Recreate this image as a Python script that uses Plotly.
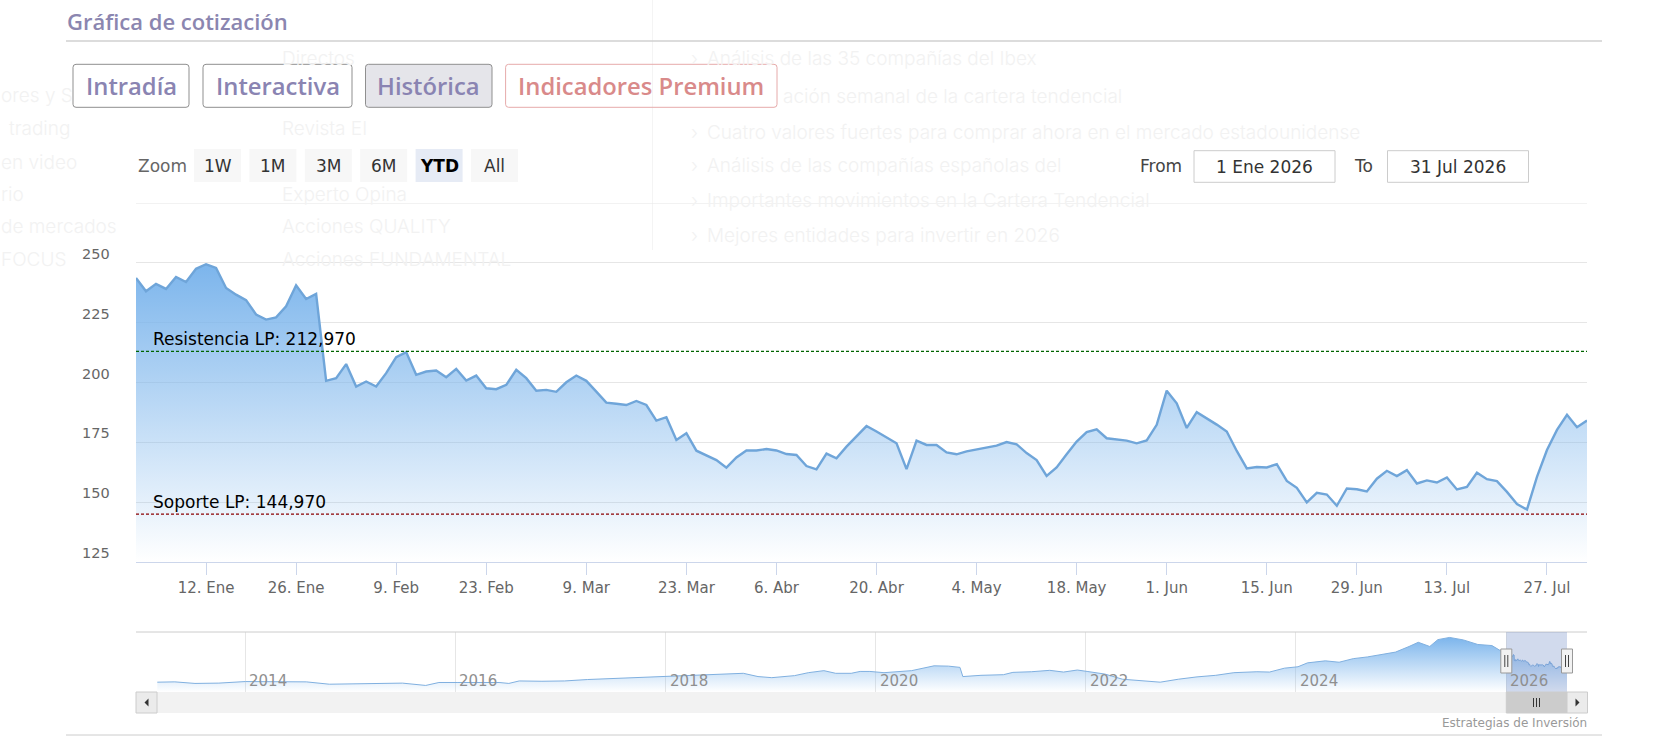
import plotly.graph_objects as go
import pandas as pd

W, H = 1664, 756

# ---------------- data ----------------
HOLIDAYS = ['2026-01-01', '2026-01-19', '2026-02-16', '2026-04-03',
            '2026-05-25', '2026-06-19', '2026-07-03']
DATES = ['2025-12-31'] + [d for d in pd.bdate_range('2026-01-02', '2026-07-31').strftime('%Y-%m-%d')
                          if d not in HOLIDAYS]

PRICES = [
    243.7, 238.1, 241.2, 239.1, 244.1, 242.0, 247.5, 249.4, 247.9, 239.5,
    236.7, 234.4, 228.4, 226.3, 227.2, 231.8, 240.6, 234.9, 237.0, 200.7,
    201.8, 207.7, 198.3, 200.4, 198.3, 203.9, 210.6, 212.7, 203.2, 204.6,
    205.0, 202.2, 205.7, 200.8, 202.9, 197.6, 197.2, 199.0, 205.3, 201.8,
    196.6, 196.9, 196.1, 200.1, 202.9, 200.7, 196.2, 191.6, 191.1, 190.6,
    192.3, 190.6, 184.1, 185.5, 176.0, 178.8, 171.5, 169.4, 167.6, 164.4,
    168.7, 171.6, 171.6, 172.2, 171.6, 170.1, 169.7, 165.1, 163.7, 170.3,
    168.3, 173.2, 177.7, 181.8, 179.5, 177.0, 174.6, 163.8, 175.7, 173.9,
    173.9, 170.8, 170.0, 171.2, 171.9, 172.9, 173.6, 175.1, 174.2, 170.5,
    167.6, 161.0, 164.5, 170.0, 175.3, 179.3, 180.4, 176.7, 176.3, 175.7,
    174.6, 175.8, 182.3, 196.6, 191.3, 181.0, 187.6, 185.1, 182.4, 179.5,
    171.4, 164.1, 164.7, 164.5, 165.9, 158.9, 156.0, 149.9, 153.9, 153.2,
    148.5, 155.7, 155.4, 154.5, 159.8, 163.1, 160.9, 163.4, 157.8, 159.1,
    158.2, 160.3, 155.3, 156.4, 162.3, 159.6, 158.8, 154.3, 149.2, 146.9,
    160.6, 171.8, 180.2, 186.5, 181.3, 184.1,
]

TICK_DATES = ['2026-01-12', '2026-01-26', '2026-02-09', '2026-02-23', '2026-03-09',
              '2026-03-23', '2026-04-06', '2026-04-20', '2026-05-04', '2026-05-18',
              '2026-06-01', '2026-06-15', '2026-06-29', '2026-07-13', '2026-07-27']
TICK_LABELS = ['12. Ene', '26. Ene', '9. Feb', '23. Feb', '9. Mar', '23. Mar', '6. Abr',
               '20. Abr', '4. May', '18. May', '1. Jun', '15. Jun', '29. Jun', '13. Jul', '27. Jul']

Y_TICKS = [125, 150, 175, 200, 225, 250]
Y_MAX = 275

RESIST = 212.97
SUPPORT = 144.97

NAV_DATES = [
    '2013-03-01', '2013-05-01', '2013-07-10', '2013-10-01', '2014-01-01', '2014-03-10',
    '2014-05-30', '2014-08-01', '2014-10-20', '2015-01-08', '2015-04-10', '2015-07-01',
    '2015-09-20', '2015-11-05', '2016-01-10', '2016-06-01', '2016-07-05', '2016-08-10',
    '2016-10-28', '2017-01-15', '2017-04-05', '2017-06-20', '2017-09-10', '2017-11-28',
    '2018-02-18', '2018-05-08', '2018-07-28', '2018-09-28', '2018-11-18', '2019-01-05',
    '2019-03-25', '2019-05-12', '2019-07-05', '2019-08-15', '2019-10-08', '2019-11-08',
    '2019-12-12', '2020-01-30', '2020-05-05', '2020-06-20', '2020-07-22', '2020-09-10',
    '2020-10-20', '2020-10-30', '2021-01-01', '2021-03-20', '2021-04-22', '2021-06-25',
    '2021-08-28', '2021-10-15', '2021-12-02', '2022-01-05', '2022-03-08', '2022-05-08',
    '2022-07-12', '2022-09-16', '2022-11-18', '2023-01-22', '2023-03-28', '2023-05-30',
    '2023-08-18', '2023-10-01', '2023-11-22', '2024-01-08', '2024-02-10', '2024-04-12',
    '2024-05-30', '2024-07-18', '2024-09-05', '2024-10-24', '2024-12-12', '2025-01-28',
    '2025-03-01', '2025-04-10', '2025-05-08', '2025-06-18', '2025-08-05', '2025-09-24',
    '2025-11-12',
]
NAV_VALUES = [
    63, 65, 55, 57, 67, 67, 63, 65, 50, 52, 57, 57, 42, 61, 61, 61, 55, 71,
    69, 71, 80, 86, 90, 97, 101, 109, 113, 120, 99, 92, 105, 124, 137, 120,
    120, 132, 132, 124, 137, 155, 168, 166, 158, 99, 107, 111, 126, 130, 139,
    128, 141, 132, 115, 82, 74, 63, 82, 97, 107, 124, 130, 128, 153, 162, 187,
    200, 191, 214, 225, 242, 256, 292, 319, 292, 336, 350, 334, 305, 298,
]
NAV_START = '2013-02-28'
NAV_Y_MAX = 385
NAV_YEARS = [2014, 2016, 2018, 2020, 2022, 2024, 2026]
SEL_START = '2026-01-01'

RANGE_BUTTONS = ['1W', '1M', '3M', '6M', 'YTD', 'All']
SELECTED = 'YTD'
TABS = ['Intradía', 'Interactiva', 'Histórica', 'Indicadores Premium']
ACTIVE_TAB = 'Histórica'
FROM_TXT = '1 Ene 2026'
TO_TXT = '31 Jul 2026'

# faint text of the page showing through behind the chart widget
GHOST_MID = ['Directos', 'Revista EI', 'Experto Opina', 'Acciones QUALITY', 'Acciones FUNDAMENTAL']
GHOST_MID_Y = [58, 128, 195, 226, 259]
GHOST_LEFT = ['ores y S', 'trading', 'en video', 'rio', 'de mercados', 'FOCUS']
GHOST_LEFT_X = [0, 8, 0, 0, 0, 0]
GHOST_LEFT_Y = [95, 128, 162, 195, 226, 259]
GHOST_RIGHT = ['Análisis de las 35 compañías del Ibex',
               'ación semanal de la cartera tendencial',
               'Cuatro valores fuertes para comprar ahora en el mercado estadounidense',
               'Análisis de las compañías españolas del',
               'Importantes movimientos en la Cartera Tendencial',
               'Mejores entidades para invertir en 2026']
GHOST_RIGHT_X = [706, 782, 706, 706, 706, 706]
GHOST_RIGHT_Y = [58, 96, 132, 166, 200, 235]
GHOST_BULLET = [True, False, True, True, True, True]


# ---------------- helpers ----------------
def px(x):
    return x / W


def py(y):
    return 1 - y / H


FONT = 'DejaVu Sans, Verdana, sans-serif'
HFONT = 'Open Sans, Noto Sans, sans-serif'
GFONT = 'Inter, Noto Sans, sans-serif'

NAV_L, NAV_R = 157, 1567

shapes = []
annotations = []


def rect(x0, y0, x1, y1, fill, line='rgba(0,0,0,0)', lw=0, layer='above'):
    shapes.append(dict(type='rect', xref='paper', yref='paper', x0=px(x0), x1=px(x1),
                       y0=py(y1), y1=py(y0), fillcolor=fill,
                       line=dict(color=line, width=lw), layer=layer))


def rrect(x0, y0, x1, y1, r, fill, line, lw=1, layer='above'):
    p = (f"M{px(x0 + r)},{py(y0)} L{px(x1 - r)},{py(y0)} Q{px(x1)},{py(y0)} {px(x1)},{py(y0 + r)} "
         f"L{px(x1)},{py(y1 - r)} Q{px(x1)},{py(y1)} {px(x1 - r)},{py(y1)} "
         f"L{px(x0 + r)},{py(y1)} Q{px(x0)},{py(y1)} {px(x0)},{py(y1 - r)} "
         f"L{px(x0)},{py(y0 + r)} Q{px(x0)},{py(y0)} {px(x0 + r)},{py(y0)} Z")
    shapes.append(dict(type='path', xref='paper', yref='paper', path=p, fillcolor=fill,
                       line=dict(color=line, width=lw), layer=layer))


def hline(x0, x1, y, color, lw=1, layer='above'):
    shapes.append(dict(type='line', xref='paper', yref='paper', x0=px(x0), x1=px(x1),
                       y0=py(y), y1=py(y), line=dict(color=color, width=lw), layer=layer))


def vline(x, y0, y1, color, lw=1, layer='above'):
    shapes.append(dict(type='line', xref='paper', yref='paper', x0=px(x), x1=px(x),
                       y0=py(y0), y1=py(y1), line=dict(color=color, width=lw), layer=layer))


def tri(pts, color):
    p = 'M' + ' L'.join(f"{px(a)},{py(b)}" for a, b in pts) + ' Z'
    shapes.append(dict(type='path', xref='paper', yref='paper', path=p, fillcolor=color,
                       line=dict(color=color, width=0)))


def txt(x, y, s, size, color, anchor='left', family=FONT, weight=None):
    f = dict(size=size, color=color, family=family)
    if weight:
        f['weight'] = weight
    annotations.append(dict(x=px(x), y=py(y), xref='paper', yref='paper', text=s,
                            showarrow=False, xanchor=anchor, yanchor='middle', font=f,
                            borderpad=0))


# ---------------- figure ----------------
fig = go.Figure()

fig.add_trace(go.Scatter(
    x=DATES, y=PRICES, xaxis='x', yaxis='y', mode='lines',
    line=dict(color='#6fa5d9', width=2.4),
    fill='tozeroy',
    fillgradient=dict(type='vertical',
                      colorscale=[[0, 'rgba(124,181,236,0.0)'], [1, 'rgba(124,181,236,1.0)']],
                      start=Y_TICKS[0], stop=max(PRICES)),
    hoverinfo='skip', showlegend=False))

fig.add_trace(go.Scatter(
    x=NAV_DATES + DATES, y=NAV_VALUES + PRICES, xaxis='x2', yaxis='y2', mode='lines',
    line=dict(color='#80b0e0', width=1),
    fill='tozeroy',
    fillgradient=dict(type='vertical',
                      colorscale=[[0, 'rgba(124,181,236,0.0)'], [1, 'rgba(124,181,236,1.0)']],
                      start=0, stop=max(NAV_VALUES)),
    hoverinfo='skip', showlegend=False))

# ---- ghost background of the page behind ----
GC = '#f2f2f2'
vline(652.5, 0, 250, '#f4f4f4', 1, layer='below')
for s, y in zip(GHOST_MID, GHOST_MID_Y):
    txt(281, y, s, 19, GC, family=GFONT, weight=300)
for s, x, y in zip(GHOST_LEFT, GHOST_LEFT_X, GHOST_LEFT_Y):
    txt(x, y, s, 19, GC, family=GFONT, weight=300)
for s, x, y, b in zip(GHOST_RIGHT, GHOST_RIGHT_X, GHOST_RIGHT_Y, GHOST_BULLET):
    if b:
        txt(690, y, '›', 19, GC, family=GFONT, weight=300)
    txt(x, y, s, 19, GC, family=GFONT, weight=300)

# ---- header ----
txt(66, 21, 'Gráfica de cotización', 22, '#8b86b0', family=HFONT, weight=600)
hline(66, 1602, 41, '#d0d0d0', 1.5)

TAB_X = [(73, 189), (203, 352), (365.5, 492), (505.6, 777)]
for (x0, x1), name in zip(TAB_X, TABS):
    premium = name == 'Indicadores Premium'
    fill = '#e5e5ea' if name == ACTIVE_TAB else 'rgba(0,0,0,0)'
    border = '#e6aaaa' if premium else '#8f8f8f'
    color = '#d98a8a' if premium else '#8a84b2'
    rrect(x0, 64.3, x1, 107.3, 3, fill, border, 1)
    txt((x0 + x1) / 2, 86, name, 23.8, color, anchor='center', family=HFONT, weight=600)

# ---- range selector ----
txt(137, 166, 'Zoom', 17, '#666')
BX0 = 194
for i, b in enumerate(RANGE_BUTTONS):
    x0 = BX0 + i * 55.4
    x1 = x0 + 47
    sel = b == SELECTED
    rect(x0, 149, x1, 182, '#e6ebf5' if sel else '#f7f7f7')
    txt((x0 + x1) / 2, 166, b, 17, '#000' if sel else '#333', anchor='center',
        weight=700 if sel else None)

txt(1138.6, 166, 'From', 17, '#444')
rect(1194, 150.7, 1335, 182.3, 'white', '#cccccc', 1)
txt(1264.5, 166.5, FROM_TXT, 17, '#333', anchor='center')
txt(1353, 166, 'To', 17, '#444')
rect(1387.5, 150.7, 1528.5, 182.3, 'white', '#cccccc', 1)
txt(1458, 166.5, TO_TXT, 17, '#333', anchor='center')

# ---- y labels ----
for v in Y_TICKS:
    annotations.append(dict(x=px(111), xref='paper', y=v, yref='y', yshift=9, text=str(v),
                            showarrow=False, xanchor='right', yanchor='middle', borderpad=0,
                            font=dict(size=14.5, color='#666', family=FONT)))

# top grid line at the end of the axis
shapes.append(dict(type='line', xref='x domain', yref='y', x0=0, x1=1, y0=Y_MAX, y1=Y_MAX,
                   line=dict(color='#e6e6e6', width=1), layer='below'))

# ---- support / resistance ----
for val, name, col in [(RESIST, 'Resistencia LP', '#006400'), (SUPPORT, 'Soporte LP', '#8b0000')]:
    shapes.append(dict(type='line', xref='x domain', yref='y', x0=0, x1=1, y0=val, y1=val,
                       line=dict(color=col, width=1.2, dash='3px,2px'), layer='above'))
    label = f"{name}: {val:.3f}".replace('.', ',')
    annotations.append(dict(x=px(151.5), xref='paper', y=val, yref='y', text=label,
                            showarrow=False, xanchor='left', yanchor='bottom', yshift=1,
                            borderpad=0, font=dict(size=17, color='#000', family=FONT)))

# ---- navigator ----
hline(136, 1587, 632, '#cccccc', 1)
shapes.append(dict(type='rect', xref='x2', yref='paper', x0=SEL_START, x1=DATES[-1],
                   y0=py(692), y1=py(632), fillcolor='rgba(102,133,194,0.3)',
                   line=dict(width=0), layer='above'))
for yr in NAV_YEARS:
    annotations.append(dict(x=f'{yr}-01-01', xref='x2', xshift=3, y=py(681), yref='paper',
                            text=str(yr), showarrow=False, xanchor='left', yanchor='middle',
                            borderpad=0, font=dict(size=15, color='#8f8f8f', family=FONT)))


def handle(xref, anchor):
    shapes.append(dict(type='rect', xref=xref, xsizemode='pixel', xanchor=anchor,
                       x0=-5.5, x1=5.5, yref='paper', y0=py(673), y1=py(649),
                       fillcolor='#f2f2f2', line=dict(color='#999999', width=1), layer='above'))
    for dx in (-1.5, 1.5):
        shapes.append(dict(type='line', xref=xref, xsizemode='pixel', xanchor=anchor,
                           x0=dx, x1=dx, yref='paper', y0=py(667), y1=py(655),
                           line=dict(color='#444', width=1), layer='above'))


handle('x2', SEL_START)
handle('paper', px(NAV_R))  # selection ends at the last date = right end of the navigator axis

# ---- scrollbar ----
rect(NAV_L, 692, NAV_R, 713, '#f2f2f2')
rect(136, 692, NAV_L, 713, '#ebebeb', '#cccccc', 1)
rect(NAV_R, 692, 1587.5, 713, '#ebebeb', '#cccccc', 1)
tri([(144.5, 702.5), (148.5, 698.5), (148.5, 706.5)], '#333')
tri([(1579.5, 702.5), (1575.5, 698.5), (1575.5, 706.5)], '#333')
shapes.append(dict(type='rect', xref='x2', yref='paper', x0=SEL_START, x1=DATES[-1],
                   y0=py(713), y1=py(692), fillcolor='#cccccc',
                   line=dict(color='#cccccc', width=1), layer='above'))
mid = (pd.Timestamp(SEL_START) + (pd.Timestamp(DATES[-1]) - pd.Timestamp(SEL_START)) / 2).strftime('%Y-%m-%d')
for dx in (-3, 0, 3):
    shapes.append(dict(type='line', xref='x2', xsizemode='pixel', xanchor=mid,
                       x0=dx, x1=dx, yref='paper', y0=py(707), y1=py(698),
                       line=dict(color='#333', width=1), layer='above'))

# ---- credits & bottom rule ----
txt(1587.5, 723, 'Estrategias de Inversión', 12, '#999', anchor='right')
hline(66, 1602, 735, '#cccccc', 1)

fig.update_layout(
    width=W, height=H, margin=dict(l=0, r=0, t=0, b=0),
    paper_bgcolor='white', plot_bgcolor='rgba(0,0,0,0)',
    showlegend=False, hovermode=False,
    font=dict(family=FONT),
    xaxis=dict(type='category', domain=[px(136), px(1587)], range=[0, len(DATES) - 1],
               tickvals=TICK_DATES, ticktext=TICK_LABELS, ticks='outside', ticklen=12,
               tickcolor='#ccd6eb', tickwidth=1, showline=True, linecolor='#ccd6eb',
               linewidth=1, showgrid=False, zeroline=False,
               tickfont=dict(size=15, color='#666', family=FONT), anchor='y', fixedrange=True),
    yaxis=dict(domain=[py(562), py(203)], range=[Y_TICKS[0], Y_MAX],
               tickvals=Y_TICKS + [Y_MAX], showticklabels=False, gridcolor='#e6e6e6',
               gridwidth=1, showline=False, zeroline=False, ticks='', anchor='x',
               fixedrange=True),
    xaxis2=dict(type='date', domain=[px(NAV_L), px(NAV_R)], range=[NAV_START, DATES[-1]],
                anchor='y2', showgrid=True, gridcolor='#e6e6e6', tick0='2014-01-01',
                dtick='M24', showticklabels=False, ticks='', showline=False, zeroline=False,
                fixedrange=True),
    yaxis2=dict(domain=[py(692), py(632)], range=[0, NAV_Y_MAX], showgrid=False,
                showticklabels=False, zeroline=False, ticks='', anchor='x2', fixedrange=True),
    shapes=shapes, annotations=annotations,
)

fig.write_html('out.html', config={'displayModeBar': False},
               post_script="document.body.style.margin='0px';document.body.style.overflow='hidden';")
